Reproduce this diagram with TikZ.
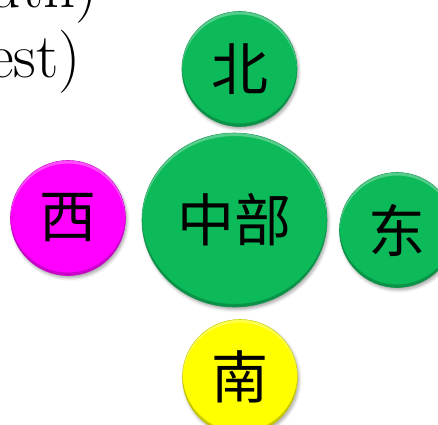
\documentclass[tikz,border=0pt]{standalone}
\usepackage{fontspec}
\newfontfamily\cjk{Noto Sans CJK SC}
\usetikzlibrary{shapes.geometric,shadows.blur}
\definecolor{ogreen}{RGB}{12,186,90}
\definecolor{omag}{RGB}{255,0,255}
\definecolor{oyel}{RGB}{255,255,0}
\tikzset{
  ball/.style={circle, minimum size=115pt, inner sep=0pt, fill=#1, draw=#1!85!black, line width=0.6pt,
    blur shadow={shadow xshift=1.5pt, shadow yshift=-2.5pt, shadow opacity=35, shadow blur radius=3pt},
    font=\cjk\fontsize{57}{57}\selectfont},
  bigball/.style={ellipse, minimum width=185pt, minimum height=174pt, inner sep=0pt, fill=#1, draw=#1!85!black, line width=0.6pt,
    blur shadow={shadow xshift=1.5pt, shadow yshift=-2.5pt, shadow opacity=35, shadow blur radius=3pt},
    font=\cjk\fontsize{57}{57}\selectfont},
  legend/.style={anchor=base east, inner sep=0pt, font=\fontsize{63}{70}\selectfont}
}
\newcommand\bevelit[3]{%
  \begin{scope}
    \clip (#1.center) ellipse [x radius=#2, y radius=#3];
    \fill[white, opacity=0.3, even odd rule] (#1.center) ellipse [x radius=#2, y radius=#3]
      ([yshift=-3pt]#1.center) ellipse [x radius=#2, y radius=#3];
    \fill[black, opacity=0.2, even odd rule] (#1.center) ellipse [x radius=#2, y radius=#3]
      ([yshift=3pt]#1.center) ellipse [x radius=#2, y radius=#3];
  \end{scope}}
\begin{document}
\begin{tikzpicture}[x=1pt,y=-1pt]
\useasboundingbox (0,0) rectangle (438,424);
\node[legend] (ls) at (98,7) {(South)};
\node[legend] (lw) at (81,77) {(West)};
\node[ball=ogreen] (n) at (239.5,69) {北};
\node[bigball=ogreen] (c) at (234.5,220) {中部};
\node[ball=omag] (w) at (68,218) {西};
\node[ball=ogreen] (e) at (397,230) {东};
\node[ball=oyel] (s) at (240,377) {南};
\bevelit{n}{57.5pt}{57.5pt}
\bevelit{c}{92.5pt}{87pt}
\bevelit{w}{57.5pt}{57.5pt}
\bevelit{e}{57.5pt}{57.5pt}
\bevelit{s}{57.5pt}{57.5pt}
\end{tikzpicture}
\end{document}
